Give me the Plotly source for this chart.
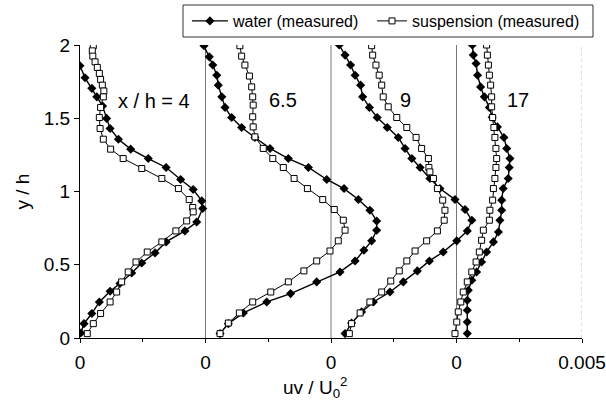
import plotly.graph_objects as go

# uv/U0^2 values below are given in units of 1e-3
UV_UNIT = 1e-3

# profile zero offsets on the shared x axis (each profile shifted by 0.005)
offsets = [-0.015, -0.010, -0.005, 0.0]
profile_labels = ["x / h = 4", "6.5", "9", "17"]
label_dx = [0.00295, 0.0031, 0.00295, 0.00245]
label_y = [1.617, 1.624, 1.624, 1.624]

# ---- x/h = 4 ----
water4_y = [1.93, 1.858, 1.776, 1.704, 1.646, 1.583, 1.499, 1.430, 1.357, 1.289, 1.225, 1.164, 1.082,
            1.014, 0.936, 0.884, 0.792, 0.731, 0.656, 0.581, 0.512, 0.444, 0.372, 0.319, 0.246,
            0.167, 0.098, 0.034]
water4_uv = [-0.25, 0.0, 0.2, 0.47, 0.67, 0.90, 1.06, 1.20, 1.53, 2.02, 2.72, 3.43, 4.01,
             4.51, 4.85, 4.89, 4.65, 4.18, 3.43, 2.99, 2.46, 2.06, 1.59, 1.20, 0.77,
             0.47, 0.16, 0.03]
susp4_y = [1.995, 1.960, 1.924, 1.885, 1.847, 1.806, 1.765, 1.726, 1.686, 1.646, 1.574, 1.505, 1.430,
           1.357, 1.289, 1.225, 1.157, 1.089, 1.020, 0.945, 0.891, 0.861, 0.799, 0.731, 0.656,
           0.587, 0.519, 0.451, 0.383, 0.314, 0.246, 0.167, 0.098, 0.030]
susp4_uv = [0.53, 0.49, 0.51, 0.60, 0.69, 0.77, 0.82, 0.89, 0.95, 0.93, 0.82, 0.77, 0.80,
            0.93, 1.22, 1.72, 2.46, 3.26, 3.92, 4.35, 4.49, 4.51, 4.25, 3.82, 3.26,
            2.68, 2.23, 1.92, 1.66, 1.46, 1.20, 0.82, 0.53, 0.29]

# ---- x/h = 6.5 ----
water65_y = [1.995, 1.919, 1.863, 1.794, 1.726, 1.646, 1.574, 1.505, 1.437, 1.369, 1.294, 1.225,
             1.164, 1.082, 1.020, 0.945, 0.872, 0.799, 0.736, 0.663, 0.599, 0.526, 0.451, 0.383,
             0.303, 0.246, 0.171, 0.098, 0.030]
water65_uv = [-0.06, 0.15, 0.29, 0.45, 0.51, 0.65, 0.78, 1.04, 1.44, 1.97, 2.57, 3.30,
              4.10, 4.83, 5.52, 6.09, 6.55, 6.82, 6.82, 6.62, 6.31, 5.96, 5.36, 4.43,
              3.39, 2.44, 1.51, 0.91, 0.58]
susp65_y = [1.995, 1.924, 1.863, 1.788, 1.714, 1.646, 1.590, 1.510, 1.441, 1.373, 1.294, 1.225,
            1.164, 1.089, 1.020, 0.945, 0.877, 0.804, 0.736, 0.663, 0.594, 0.526, 0.458, 0.383,
            0.314, 0.246, 0.171, 0.102, 0.030]
susp65_uv = [1.37, 1.44, 1.57, 1.75, 1.84, 1.88, 1.90, 1.88, 1.90, 1.97, 2.30, 2.68,
             3.10, 3.53, 4.06, 4.67, 5.13, 5.49, 5.56, 5.29, 4.96, 4.43, 3.92, 3.30,
             2.60, 1.88, 1.35, 0.91, 0.58]

# ---- x/h = 9 ----
water9_y = [2.0, 1.931, 1.863, 1.794, 1.726, 1.646, 1.574, 1.505, 1.437, 1.369, 1.294, 1.225,
            1.164, 1.089, 1.020, 0.945, 0.877, 0.804, 0.731, 0.663, 0.587, 0.526, 0.458, 0.383,
            0.314, 0.246, 0.178, 0.102, 0.030]
water9_uv = [0.33, 0.56, 0.78, 0.96, 1.18, 1.26, 1.53, 1.84, 2.24, 2.68, 2.95, 3.22,
             3.55, 3.94, 4.34, 4.94, 5.34, 5.61, 5.43, 5.01, 4.47, 3.92, 3.44, 2.88,
             2.35, 1.69, 1.22, 0.82, 0.56]
susp9_y = [1.995, 1.931, 1.863, 1.794, 1.726, 1.646, 1.578, 1.505, 1.437, 1.369, 1.294, 1.225,
           1.164, 1.134, 1.089, 1.020, 0.941, 0.872, 0.804, 0.731, 0.663, 0.594, 0.526, 0.458,
           0.389, 0.314, 0.246, 0.171, 0.098, 0.030]
susp9_uv = [1.62, 1.66, 1.79, 1.92, 2.02, 2.08, 2.28, 2.62, 3.02, 3.39, 3.61, 3.88,
            3.90, 3.94, 4.08, 4.24, 4.45, 4.54, 4.51, 4.24, 3.81, 3.35, 3.02, 2.72,
            2.38, 2.02, 1.55, 1.16, 0.82, 0.73]

# ---- x/h = 17 ----
water17_y = [2.0, 1.931, 1.874, 1.794, 1.714, 1.646, 1.574, 1.507, 1.441, 1.369, 1.294, 1.225,
             1.164, 1.089, 1.020, 0.941, 0.872, 0.804, 0.724, 0.656, 0.587, 0.519, 0.451, 0.394,
             0.326, 0.258, 0.189, 0.109, 0.030]
water17_uv = [0.63, 0.67, 0.78, 0.84, 0.96, 1.11, 1.31, 1.42, 1.63, 1.89, 2.00, 2.13,
              2.10, 2.06, 1.86, 1.80, 1.80, 1.73, 1.67, 1.47, 1.20, 1.00, 0.80, 0.61,
              0.47, 0.43, 0.43, 0.43, 0.43]
susp17_y = [2.0, 1.931, 1.863, 1.794, 1.726, 1.646, 1.578, 1.505, 1.437, 1.369, 1.294, 1.225,
            1.164, 1.089, 1.020, 0.941, 0.872, 0.804, 0.736, 0.667, 0.587, 0.519, 0.451, 0.383,
            0.314, 0.246, 0.178, 0.109, 0.030]
susp17_uv = [1.20, 1.23, 1.27, 1.31, 1.36, 1.40, 1.40, 1.44, 1.49, 1.53, 1.57, 1.60,
             1.57, 1.53, 1.47, 1.44, 1.33, 1.31, 1.07, 1.00, 0.91, 0.78, 0.61, 0.43,
             0.27, 0.17, 0.07, 0.01, -0.06]

water_profiles = [(water4_uv, water4_y), (water65_uv, water65_y), (water9_uv, water9_y), (water17_uv, water17_y)]
susp_profiles = [(susp4_uv, susp4_y), (susp65_uv, susp65_y), (susp9_uv, susp9_y), (susp17_uv, susp17_y)]

x_tickvals = [-0.015, -0.010, -0.005, 0.0, 0.005]
x_ticktext = ["0", "0", "0", "0", "0.005"]
y_tickvals = [0, 0.5, 1, 1.5, 2]
y_ticktext = ["0", "0.5", "1", "1.5", "2"]

FONT = "Liberation Sans, Arial, sans-serif"

fig = go.Figure()

for i, (off, (uv, yy)) in enumerate(zip(offsets, water_profiles)):
    fig.add_trace(go.Scatter(
        x=[off + v * UV_UNIT for v in uv], y=yy, mode="lines+markers",
        name="water (measured)", showlegend=(i == 0), legend="legend",
        line=dict(color="black", width=1.4),
        marker=dict(symbol="diamond", size=7, color="black", line=dict(width=0)),
    ))
for i, (off, (uv, yy)) in enumerate(zip(offsets, susp_profiles)):
    fig.add_trace(go.Scatter(
        x=[off + v * UV_UNIT for v in uv], y=yy, mode="lines+markers",
        name="suspension (measured)", showlegend=(i == 0), legend="legend2",
        line=dict(color="black", width=1),
        marker=dict(symbol="square", size=6, color="white", line=dict(color="black", width=1)),
    ))

# thin vertical zero lines of the shifted profiles
for off in offsets[1:]:
    fig.add_shape(type="line", xref="x", yref="y", x0=off, x1=off, y0=0, y1=2,
                  line=dict(color="#777", width=1), layer="below")
fig.add_shape(type="line", xref="x", yref="y", x0=x_tickvals[-1], x1=x_tickvals[-1], y0=0, y1=2,
              line=dict(color="#bbb", width=1, dash="dot"), layer="below")

# legend frame
fig.add_shape(type="rect", xref="paper", yref="paper", x0=0.2052, x1=1.0219, y0=1.0273, y1=1.1365,
              line=dict(color="#333", width=1), fillcolor="white", layer="below")

for off, lab, dx, ly in zip(offsets, profile_labels, label_dx, label_y):
    fig.add_annotation(x=off + dx, y=ly, xref="x", yref="y", text=lab, showarrow=False,
                       font=dict(family=FONT, size=20, color="black"))

fig.add_annotation(x=0.468, y=-0.17, xref="paper", yref="paper", xanchor="center", yanchor="middle",
                   text="uv / U<sub>0</sub><sup>2</sup>", showarrow=False,
                   font=dict(family=FONT, size=19, color="black"))
fig.add_annotation(x=-0.1155, y=0.5, xref="paper", yref="paper", xanchor="center", yanchor="middle",
                   text="y / h", textangle=-90,
                   showarrow=False, font=dict(family=FONT, size=19, color="black"))

fig.update_xaxes(range=[-0.015, 0.005], tickvals=x_tickvals, ticktext=x_ticktext,
                 showgrid=False, zeroline=False, showline=True, linecolor="black", linewidth=1,
                 ticks="outside", ticklen=4, tickcolor="black", ticklabelstandoff=3,
                 minor=dict(tickvals=[-0.0125, -0.0075, -0.0025, 0.0025], ticks="outside",
                            ticklen=3, tickcolor="black", showgrid=False),
                 tickfont=dict(family=FONT, size=19, color="black"))
fig.update_yaxes(range=[0, 2], tickvals=y_tickvals, ticktext=y_ticktext,
                 showgrid=False, zeroline=False, showline=True, linecolor="black", linewidth=1,
                 ticks="outside", ticklen=5, tickcolor="black",
                 tickfont=dict(family=FONT, size=19, color="black"))

fig.update_layout(
    width=606, height=400,
    margin=dict(l=80, r=24, t=45, b=62, autoexpand=False),
    paper_bgcolor="white", plot_bgcolor="white",
    showlegend=True,
    legend=dict(orientation="h", x=0.213, xanchor="left", y=1.0819, yanchor="middle",
                borderwidth=0, bgcolor="rgba(0,0,0,0)",
                font=dict(family=FONT, size=16, color="black"), itemwidth=36),
    legend2=dict(orientation="h", x=0.5817, xanchor="left", y=1.0819, yanchor="middle",
                 borderwidth=0, bgcolor="rgba(0,0,0,0)",
                 font=dict(family=FONT, size=16, color="black"), itemwidth=30),
)

fig.write_html("out.html")
